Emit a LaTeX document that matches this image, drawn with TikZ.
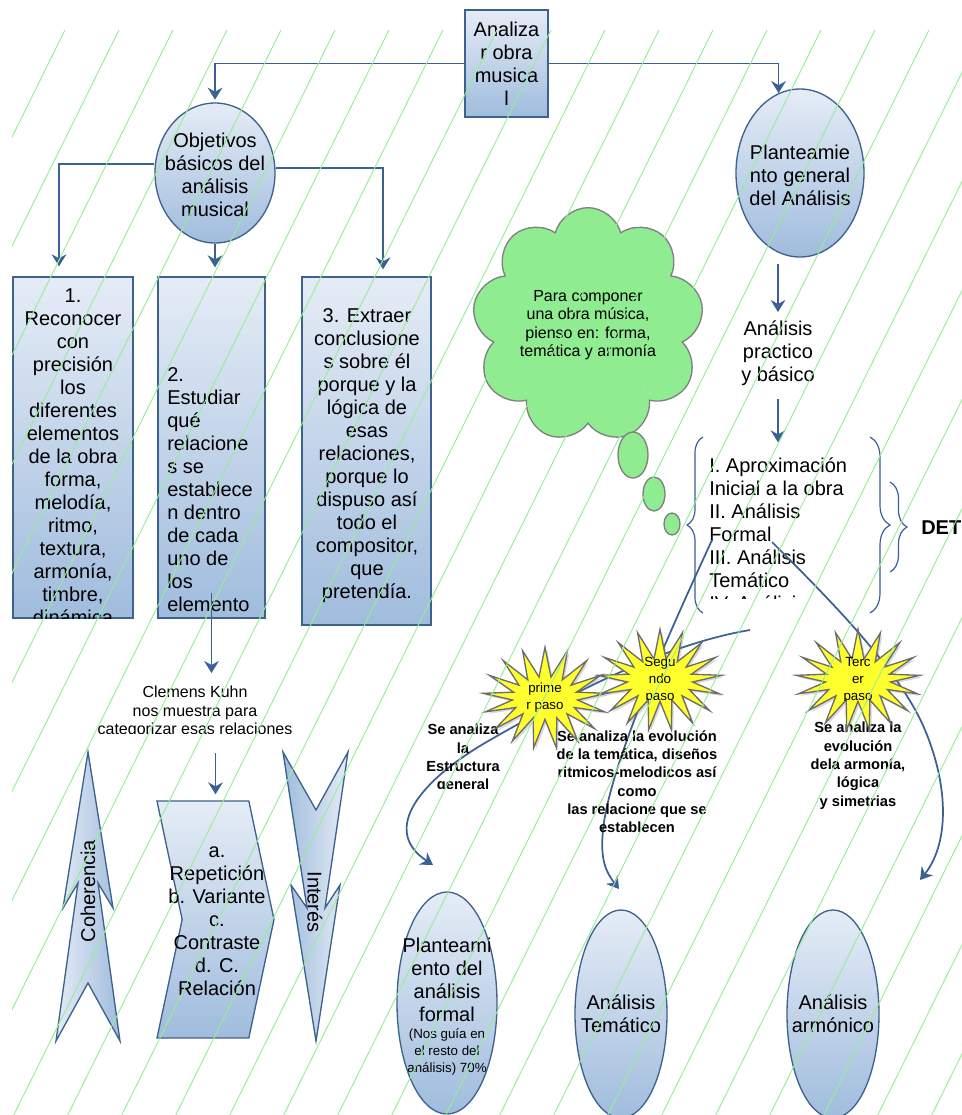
\documentclass[tikz,border=0pt]{standalone}
\usepackage{fontspec}
\setmainfont{Liberation Sans}
\usetikzlibrary{shapes.geometric, shapes.symbols, arrows.meta, positioning, decorations.pathreplacing, shadows}
\definecolor{boxtop}{RGB}{229,236,246}
\definecolor{boxbot}{RGB}{160,188,221}
\definecolor{edge}{RGB}{62,98,142}
\definecolor{linkblue}{RGB}{58,96,148}
\definecolor{cloudfill}{RGB}{144,236,144}
\definecolor{hatchgreen}{RGB}{150,238,150}
\definecolor{burstfill}{RGB}{255,255,45}

\begin{document}
\begin{tikzpicture}[
    x=0.75pt, y=-0.75pt,
    txtbig/.style={font=\fontsize{15}{17.25}\selectfont, align=center, inner sep=0pt},
    txtsmall/.style={font=\fontsize{12}{13.75}\selectfont, align=center, inner sep=0pt},
    txttiny/.style={font=\fontsize{10}{12.6}\selectfont, align=center, inner sep=0pt},
    txtbold/.style={font=\fontsize{11}{13.75}\selectfont\bfseries, align=center, inner sep=0pt},
    bluebox/.style={rectangle, draw=edge, line width=1pt, top color=boxtop, bottom color=boxbot},
    blueell/.style={ellipse, draw=edge, line width=1pt, top color=boxtop, bottom color=boxbot, inner sep=0pt},
    burst/.style={starburst, starburst points=17, starburst point height=22pt, random starburst=0, fill=burstfill, draw=gray!85!black, line width=1pt, drop shadow={opacity=0.3, shadow xshift=1.5pt, shadow yshift=-1.5pt}, minimum width=93pt, minimum height=76pt, inner sep=0pt},
    bubble/.style={ellipse, fill=cloudfill, draw=gray, line width=1pt, inner sep=0pt},
    arr/.style={-{Stealth[length=9pt, width=11pt, inset=3pt]}, line width=1.3pt, linkblue},
    brc/.style={decorate, decoration={brace, amplitude=#1}, linkblue, line width=0.9pt},
    hatch/.style={hatchgreen, line width=0.7pt},
]
\useasboundingbox (0,0) rectangle (962,1115);
\fill[white] (0,0) rectangle (962,1115);

% top and the two branches
\node[bluebox, txtbig, minimum width=62.25pt, minimum height=80.25pt] (top) at (506.5,63.5) {Analiza\\r obra\\musica\\l};

\node[blueell, minimum width=90pt, minimum height=105pt] (obj) at (215,173) {};
\node[txtbig] (objtxt) at (215,175) {Objetivos\\básicos del\\análisis\\musical};

\node[blueell, minimum width=96pt, minimum height=126pt] (plan) at (800,173) {};
\node[txtbig] (plantxt) at (800,175) {Planteamie\\nto general\\del Análisis};

% objetivos
\node[bluebox, minimum width=90pt, minimum height=255.75pt] (obj1) at (73,447.5) {};
\node[bluebox, minimum width=80.25pt, minimum height=255.75pt] (obj2) at (211.5,447.5) {};
\node[bluebox, minimum width=96.75pt, minimum height=261pt] (obj3) at (366.5,451) {};
\begin{scope}
  \clip (obj1.north west) rectangle (obj1.south east);
  \node[txtbig, anchor=north] (obj1txt) at (73,288) {1.\\Reconocer\\con\\precisión\\los\\diferentes\\elementos\\de la obra\\forma,\\melodía,\\ritmo,\\textura,\\armonía,\\timbre,\\dinámica};
\end{scope}
\node[txtbig, align=left, anchor=north west] (obj2txt) at (167,367) {2.\\Estudiar\\qué\\relacione\\s se\\establece\\n dentro\\de cada\\uno de\\los\\elemento};
\node[txtbig, anchor=north] (obj3txt) at (367,308) {3. Extraer\\conclusione\\s sobre él\\porque y la\\lógica de\\esas\\relaciones,\\porque lo\\dispuso así\\todo el\\compositor,\\que\\pretendía.};

\begin{scope}
  \clip (90,670) rectangle (310,733);
  \node[txtsmall, anchor=north] (kuhn) at (195,686) {Clemens Kuhn\\nos muestra para\\categorizar esas relaciones};
\end{scope}

\path[draw=edge, line width=1pt, left color=boxtop, right color=boxbot] (88,752) -- (63,908) -- (78,883) -- (56,1041) -- (88,983) -- (120,1041) -- (98,883) -- (113,908) -- cycle;
\node[txtbig, rotate=90] (coh) at (88,891) {Coherencia};
\node[signal, signal to=east, signal from=west, signal pointer angle=156, draw=edge, line width=1pt, top color=boxtop, bottom color=boxbot, inner sep=0pt, minimum width=87.75pt, minimum height=177.75pt] (chev) at (215.5,919.5) {};
\node[txtbig] (chevtxt) at (217,921) {a.\\Repetición\\b. Variante\\c.\\Contraste\\d. C.\\Relación};
\path[draw=edge, line width=1pt, left color=boxbot, right color=boxtop] (283,752) -- (316,810) -- (348,752) -- (325,908) -- (340,885) -- (316,1041) -- (291,885) -- (307,908) -- cycle;
\node[txtbig, rotate=-90] (int) at (315,902) {Interés};

% planteamiento
\node[cloud, cloud puffs=9, draw=gray, line width=1pt, fill=cloudfill, txtsmall, minimum width=157pt, minimum height=176pt] (idea) at (588,325) {Para componer\\una obra música,\\pienso en: forma,\\temática y armonía};
\node[bubble, minimum width=22.5pt, minimum height=34.5pt] (bub1) at (633,455) {};
\node[bubble, minimum width=16.5pt, minimum height=25.5pt] (bub2) at (654,494) {};
\node[bubble, minimum width=12pt, minimum height=16.5pt] (bub3) at (672,524) {};

\node[txtbig, anchor=north] (prac) at (778,320) {Análisis\\practico\\y básico};
\begin{scope}
  \clip (690,440) rectangle (868,598);
  \node[txtbig, align=left, anchor=north west] (lista) at (709,457) {I. Aproximación\\Inicial a la obra\\II. Análisis\\Formal\\III. Análisis\\Temático\\IV. Análisis};
\end{scope}
\draw[brc=12pt] (703,613) -- (703,437);
\draw[brc=15pt] (870,437) -- (870,613);
\draw[brc=12.75pt] (890,482) -- (890,572);
\node[txtbig, font=\fontsize{15}{17.25}\selectfont\bfseries, anchor=west] (det) at (921,528) {DET};

\node[blueell, minimum width=75pt, minimum height=166.5pt] (formal) at (447,1003) {};
\node[txtbig, anchor=north] (formaltxt) at (447,938) {Planteami\\ento del\\análisis\\formal};
\node[txttiny, below=5pt of formaltxt] (formalnota) {(Nos guía en\\el resto del\\análisis) 70\%};
\node[blueell, minimum width=69pt, minimum height=156pt] (tema) at (621,1014) {};
\node[txtbig, anchor=north] (tematxt) at (621,994) {Análisis\\Temático};
\node[blueell, minimum width=69pt, minimum height=156pt] (armo) at (833,1014) {};
\node[txtbig, anchor=north] (armotxt) at (833,994) {Análisis\\armónico};

% straight connectors
\draw[arr, shorten >=2pt] (top.west) -| (obj.north);
\draw[arr] (top.east) -| (plan.105);
\draw[arr, shorten >=7.5pt] ([yshift=6.75pt]obj.west) -| ([xshift=-10.5pt]obj1.north);
\draw[arr, shorten >=6.75pt] (obj.south) -- (obj.south |- obj2.north);
\draw[arr, shorten >=5.25pt] ([yshift=3.75pt]obj.east) -| ([xshift=12.4pt]obj3.north);
\draw[arr, shorten <=-19.5pt, shorten >=9.75pt] (obj2.south) -- (obj2.south |- kuhn.north);
\draw[arr, shorten <=11pt, shorten >=4.5pt] (chev.north |- kuhn.south) -- (chev.north);
\draw[arr, shorten <=4.5pt, shorten >=6pt] (prac.north |- plan.south) -- (prac.north);
\draw[arr, shorten <=10pt, shorten >=11pt] (prac.south) -- (prac.south |- lista.north);

% curved connectors to the three analyses
\coordinate (fa) at (750,630);
\coordinate (fb) at (712,540);
\coordinate (fc) at (772,542);
\coordinate (ta) at (433,865);
\coordinate (tb) at (619,889);
\coordinate (tc) at (920,880);
\draw[arr] (fa) .. controls (660,645) and (560,700) .. (490,740) .. controls (420,780) and (380,830) .. (ta);
\draw[arr] (fb) .. controls (680,610) and (610,760) .. (603,830) .. controls (600,860) and (606,872) .. (tb);
\draw[arr] (fc) .. controls (830,600) and (900,670) .. (925,730) .. controls (950,790) and (948,845) .. (tc);

\begin{scope}
  \clip (380,700) rectangle (560,788);
  \node[txtbold, anchor=north] (estr) at (463,724) {Se analiza\\la\\Estructura\\general};
\end{scope}
\node[txtbold, anchor=north] (evol) at (637,730) {Se analiza la evolución\\de la temática, diseños\\ritmicos-melodicos así\\como\\las relacione que se\\establecen};
\node[txtbold, anchor=north] (armon) at (858,722) {Se analiza la\\evolución\\dela armonía,\\lógica\\y simetrias};

% pasos
\node[burst] (paso1) at (545,698) {};
\node[txttiny, font=\fontsize{10}{12.75}\selectfont] (paso1txt) at (paso1) {prime\\r paso};
\node[burst] (paso2) at (660,680) {};
\begin{scope}
  \clip (610,640) rectangle (710,699);
  \node[txttiny, font=\fontsize{10}{12.75}\selectfont] (paso2txt) at (paso2) {Segu\\ndo\\paso};
\end{scope}
\node[burst] (paso3) at (858,680) {};
\begin{scope}
  \clip (810,640) rectangle (910,700);
  \node[txttiny, font=\fontsize{10}{12.75}\selectfont] (paso3txt) at (paso3) {Terc\\er\\paso};
\end{scope}

% background hatching
\begin{scope}
  \clip (12,30) rectangle (962,1115);
  \foreach \k in {0,...,27}
    \draw[hatch] ({65+54*\k},30) -- ++(-560,1131);
\end{scope}

\end{tikzpicture}
\end{document}
